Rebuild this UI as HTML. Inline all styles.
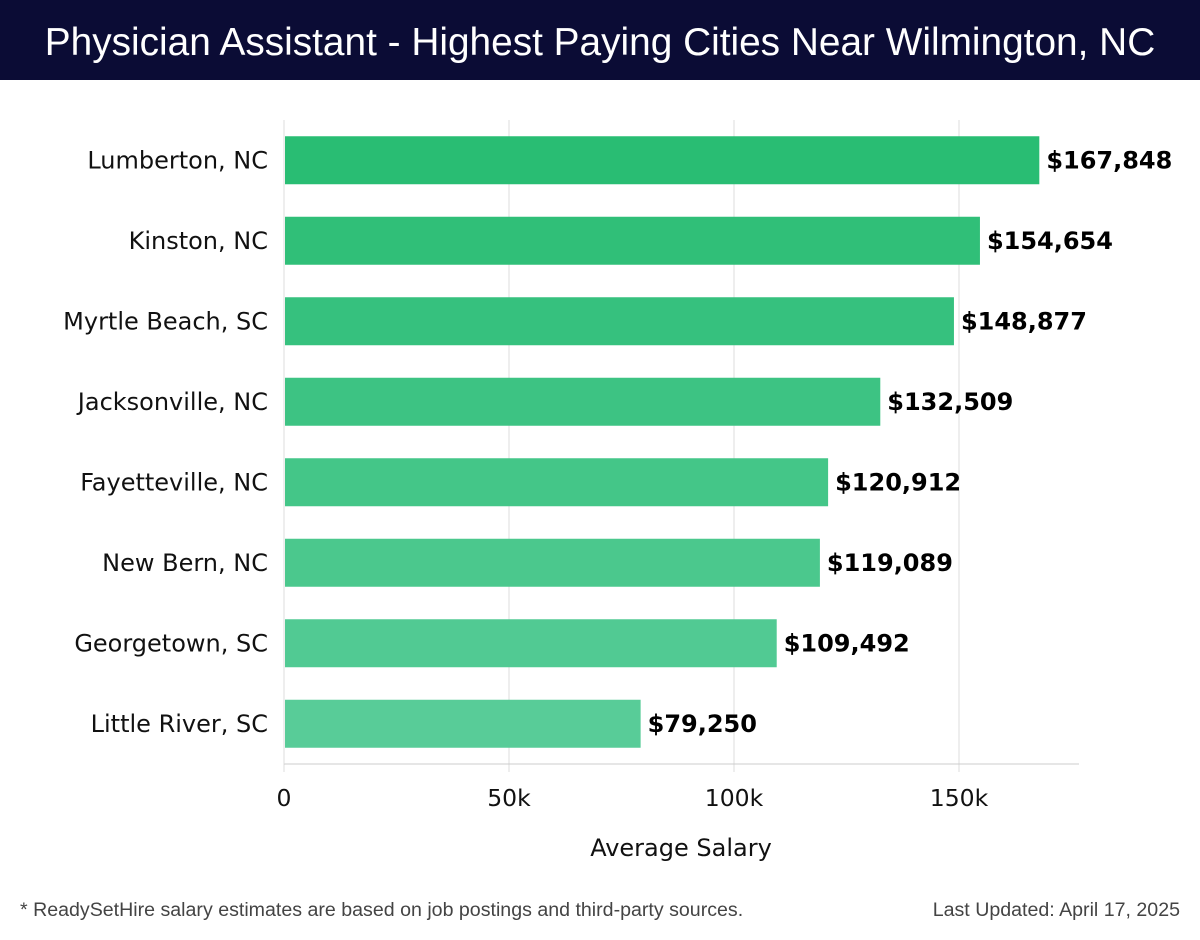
<!DOCTYPE html>
<html><head><meta charset="utf-8"><style>
body{margin:0;width:1200px;height:940px;background:#fff;font-family:"DejaVu Sans","Liberation Sans",sans-serif;overflow:hidden}
#title{position:absolute;left:0;top:0;width:1200px;height:80px;background:#0b0c35;color:#fff;font-size:38.8px;text-align:center;line-height:86px;font-family:"Liberation Sans",sans-serif;white-space:nowrap}
.foot{position:absolute;top:899px;font-size:19.6px;color:#444;font-family:"Liberation Sans",sans-serif;white-space:nowrap}
</style></head><body>
<div id="title">Physician Assistant - Highest Paying Cities Near Wilmington, NC</div>
<svg id="chart" width="1200" height="940" style="position:absolute;left:0;top:0"></svg>
<div class="foot" style="left:20px">* ReadySetHire salary estimates are based on job postings and third-party sources.</div>
<div class="foot" style="right:20px">Last Updated: April 17, 2025</div>
<script>
const cities=["Lumberton, NC","Kinston, NC","Myrtle Beach, SC","Jacksonville, NC","Fayetteville, NC","New Bern, NC","Georgetown, SC","Little River, SC"];
const salaries=[167848,154654,148877,132509,120912,119089,109492,79250];
const tickValues=[0,50000,100000,150000];
const tickLabels=["0","50k","100k","150k"];
const NS="http://www.w3.org/2000/svg",svg=document.getElementById('chart');
const x0=284,pxPer=675/150000,top0=120,band=80.5,bh=48,axisY=764,xEnd=1079;
const X=v=>x0+v*pxPer, Yc=i=>top0+band*i+band/2;
function mk(t,a){const e=document.createElementNS(NS,t);for(const k in a)e.setAttribute(k,a[k]);svg.appendChild(e);return e;}
tickValues.forEach((v,i)=>{
 const g=mk('line',{x1:X(v),x2:X(v),y1:top0,y2:axisY+8,stroke:'#ddd','stroke-width':1});
 
 
 const t=mk('text',{x:X(v),y:806,'text-anchor':'middle','font-size':23.5,fill:'#111'});t.textContent=tickLabels[i];
 
 
});
const ax=mk('line',{x1:x0,x2:xEnd,y1:axisY,y2:axisY,stroke:'#ccc','stroke-width':1});


const yl=mk('line',{x1:x0,x2:x0,y1:top0,y2:axisY,stroke:'#ddd','stroke-width':1});


salaries.forEach((v,i)=>{
 const f=i/(salaries.length-1);
 const r=Math.round(41+f*(88-41)),g=Math.round(189+f*(204-189)),b=Math.round(115+f*(152-115));
 const rc=mk('rect',{x:x0+1,y:Yc(i)-bh/2,width:X(v)-x0-1,height:bh,fill:`rgb(${r},${g},${b})`});
 
 
 const vl=mk('text',{x:X(v)+7,y:Yc(i)+8,'font-size':24,'font-weight':'bold',fill:'#000'});vl.textContent='$'+v.toLocaleString('en-US');
 
 
 const cl=mk('text',{x:268,y:Yc(i)+8,'text-anchor':'end','font-size':24,fill:'#111'});cl.textContent=cities[i];
 
 
});
const at=mk('text',{x:681,y:856,'text-anchor':'middle','font-size':24,fill:'#111'});at.textContent='Average Salary';


</script>
</body></html>
